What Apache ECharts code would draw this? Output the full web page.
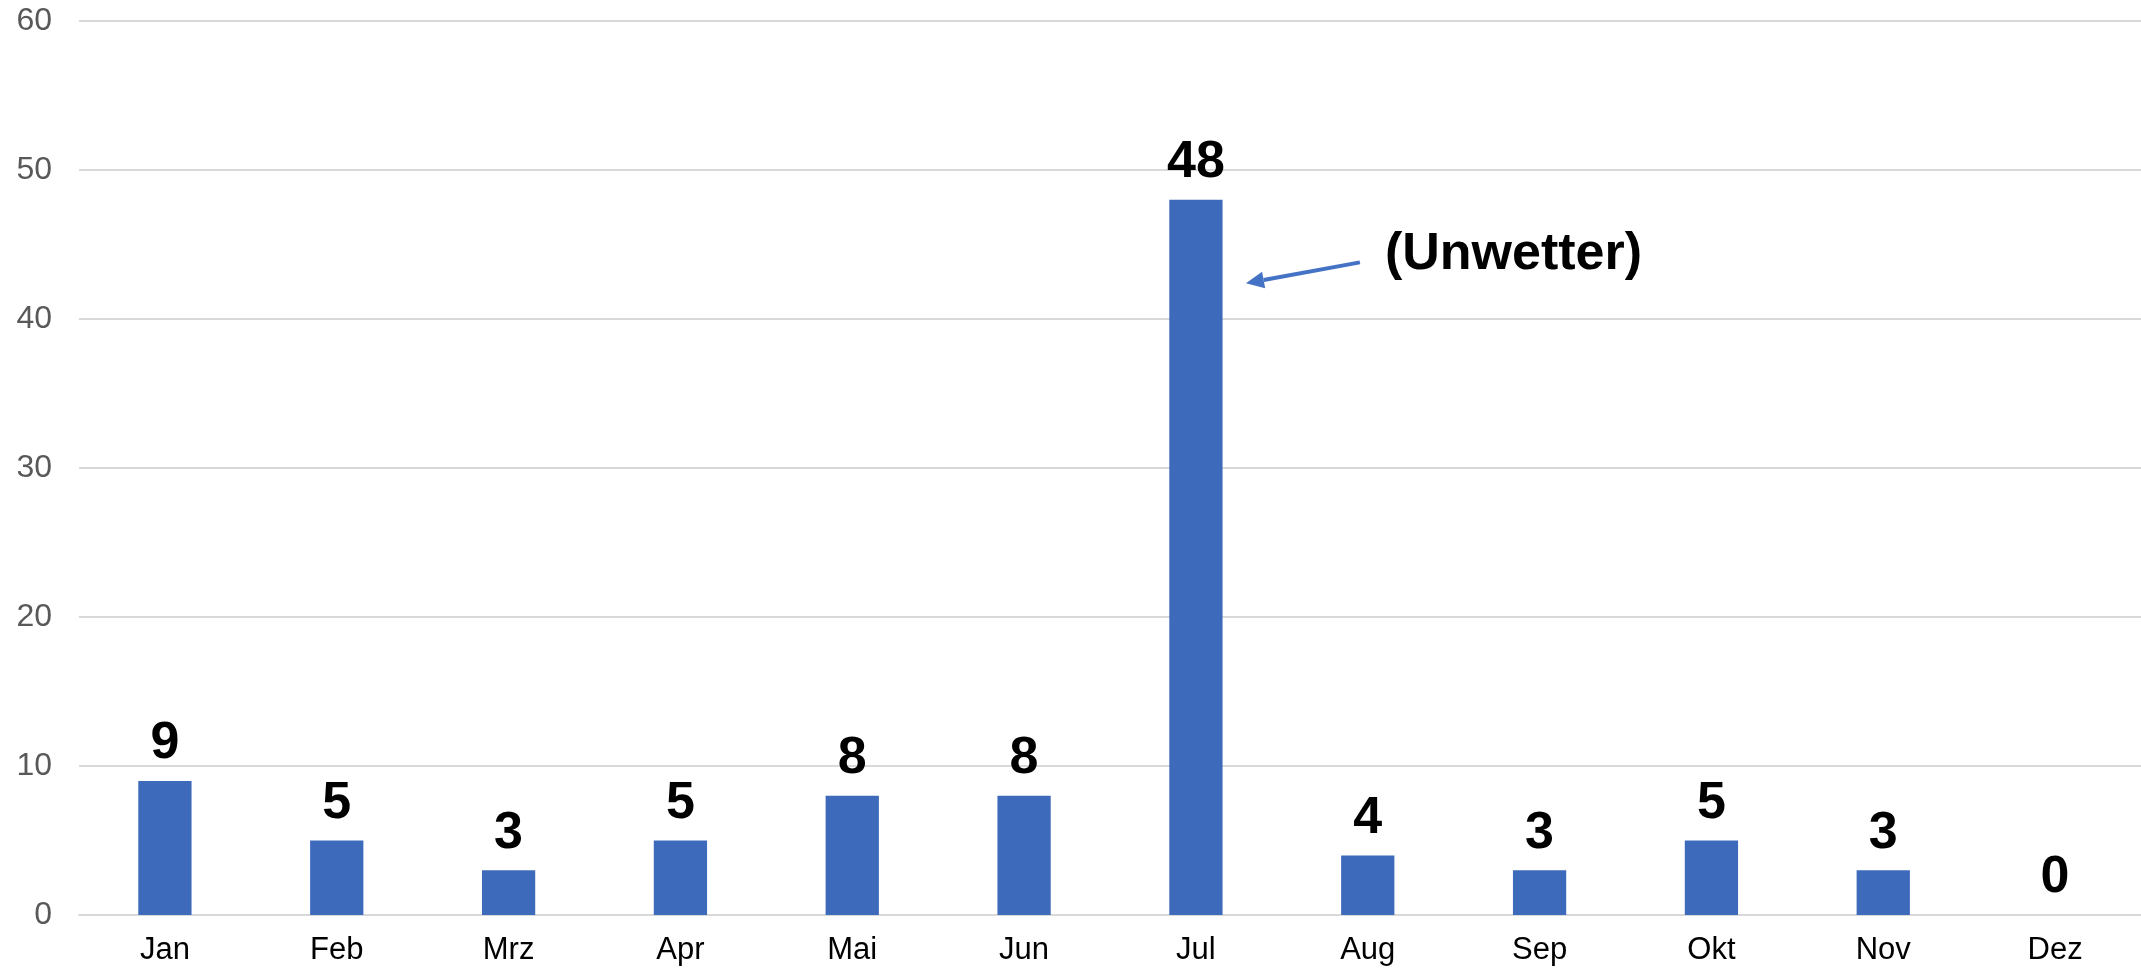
<!DOCTYPE html>
<html>
<head>
<meta charset="utf-8">
<script src="https://cdn.jsdelivr.net/npm/echarts@6/dist/echarts.min.js"></script>
<style>
  html, body { margin: 0; padding: 0; background: #ffffff; }
  #main { width: 2141px; height: 970px; }
</style>
</head>
<body>
<div id="main"></div>
<script>
  // Monate und Werte
  const months = ['Jan', 'Feb', 'Mrz', 'Apr', 'Mai', 'Jun', 'Jul', 'Aug', 'Sep', 'Okt', 'Nov', 'Dez'];
  const counts = [9, 5, 3, 5, 8, 8, 48, 4, 3, 5, 3, 0];
  const yTicks = [0, 10, 20, 30, 40, 50, 60];
  const noteText = '(Unwetter)';
  const noteMonth = 'Jul';

  const barColor = '#3D6ABB';
  const font = '"Liberation Sans", Arial, sans-serif';

  let chart = echarts.init(document.getElementById('main'));
  let option = {
    animation: false,
    backgroundColor: '#ffffff',
    grid: {
      left: 79,
      top: 21,
      bottom: 55,
      width: 2070,
      containLabel: false
    },
    xAxis: {
      type: 'category',
      data: months,
      axisLine: { show: true, lineStyle: { color: '#D9D9D9', width: 2 } },
      axisTick: { show: false },
      axisLabel: { color: '#000000', fontSize: 31, fontFamily: font, margin: 20 }
    },
    yAxis: {
      type: 'value',
      min: yTicks[0],
      max: yTicks[yTicks.length - 1],
      interval: yTicks[1] - yTicks[0],
      axisLine: { show: false },
      axisTick: { show: false },
      splitLine: { lineStyle: { color: '#D9D9D9', width: 2 } },
      axisLabel: { color: '#595959', fontSize: 32, fontFamily: font, margin: 27 }
    },
    series: [{
      type: 'bar',
      data: counts,
      barWidth: '31%',
      itemStyle: { color: barColor },
      label: {
        show: true,
        position: 'top',
        distance: 11,
        color: '#000000',
        fontSize: 52,
        fontWeight: 'bold',
        fontFamily: font
      }
    }]
  };
  chart.setOption(option);

  // Pfeil und Hinweis neben dem Juli-Balken
  const idx = months.indexOf(noteMonth);
  const p = chart.convertToPixel({ seriesIndex: 0 }, [idx, counts[idx]]);
  const tipY = chart.convertToPixel({ seriesIndex: 0 }, [idx, 42.4])[1];
  const tailY = chart.convertToPixel({ seriesIndex: 0 }, [idx, 43.8])[1];
  const tip = [p[0] + 50, tipY];
  const tail = [p[0] + 164, tailY];
  const dx = tail[0] - tip[0], dy = tail[1] - tip[1];
  const len = Math.sqrt(dx * dx + dy * dy);
  const ux = dx / len, uy = dy / len;
  const headLen = 18, headW = 8.5;
  const base = [tip[0] + ux * headLen, tip[1] + uy * headLen];
  chart.setOption({
    graphic: [
      {
        type: 'line',
        shape: { x1: tail[0], y1: tail[1], x2: base[0], y2: base[1] },
        style: { stroke: '#4472C4', lineWidth: 4 }
      },
      {
        type: 'polygon',
        shape: {
          points: [
            tip,
            [base[0] - uy * headW, base[1] + ux * headW],
            [base[0] + uy * headW, base[1] - ux * headW]
          ]
        },
        style: { fill: '#4472C4' }
      },
      {
        type: 'text',
        x: tail[0] + 25,
        y: tail[1] - 8,
        style: {
          text: noteText,
          fill: '#000000',
          font: 'bold 52px ' + font,
          verticalAlign: 'middle',
          align: 'left'
        }
      }
    ]
  });
</script>
</body>
</html>
